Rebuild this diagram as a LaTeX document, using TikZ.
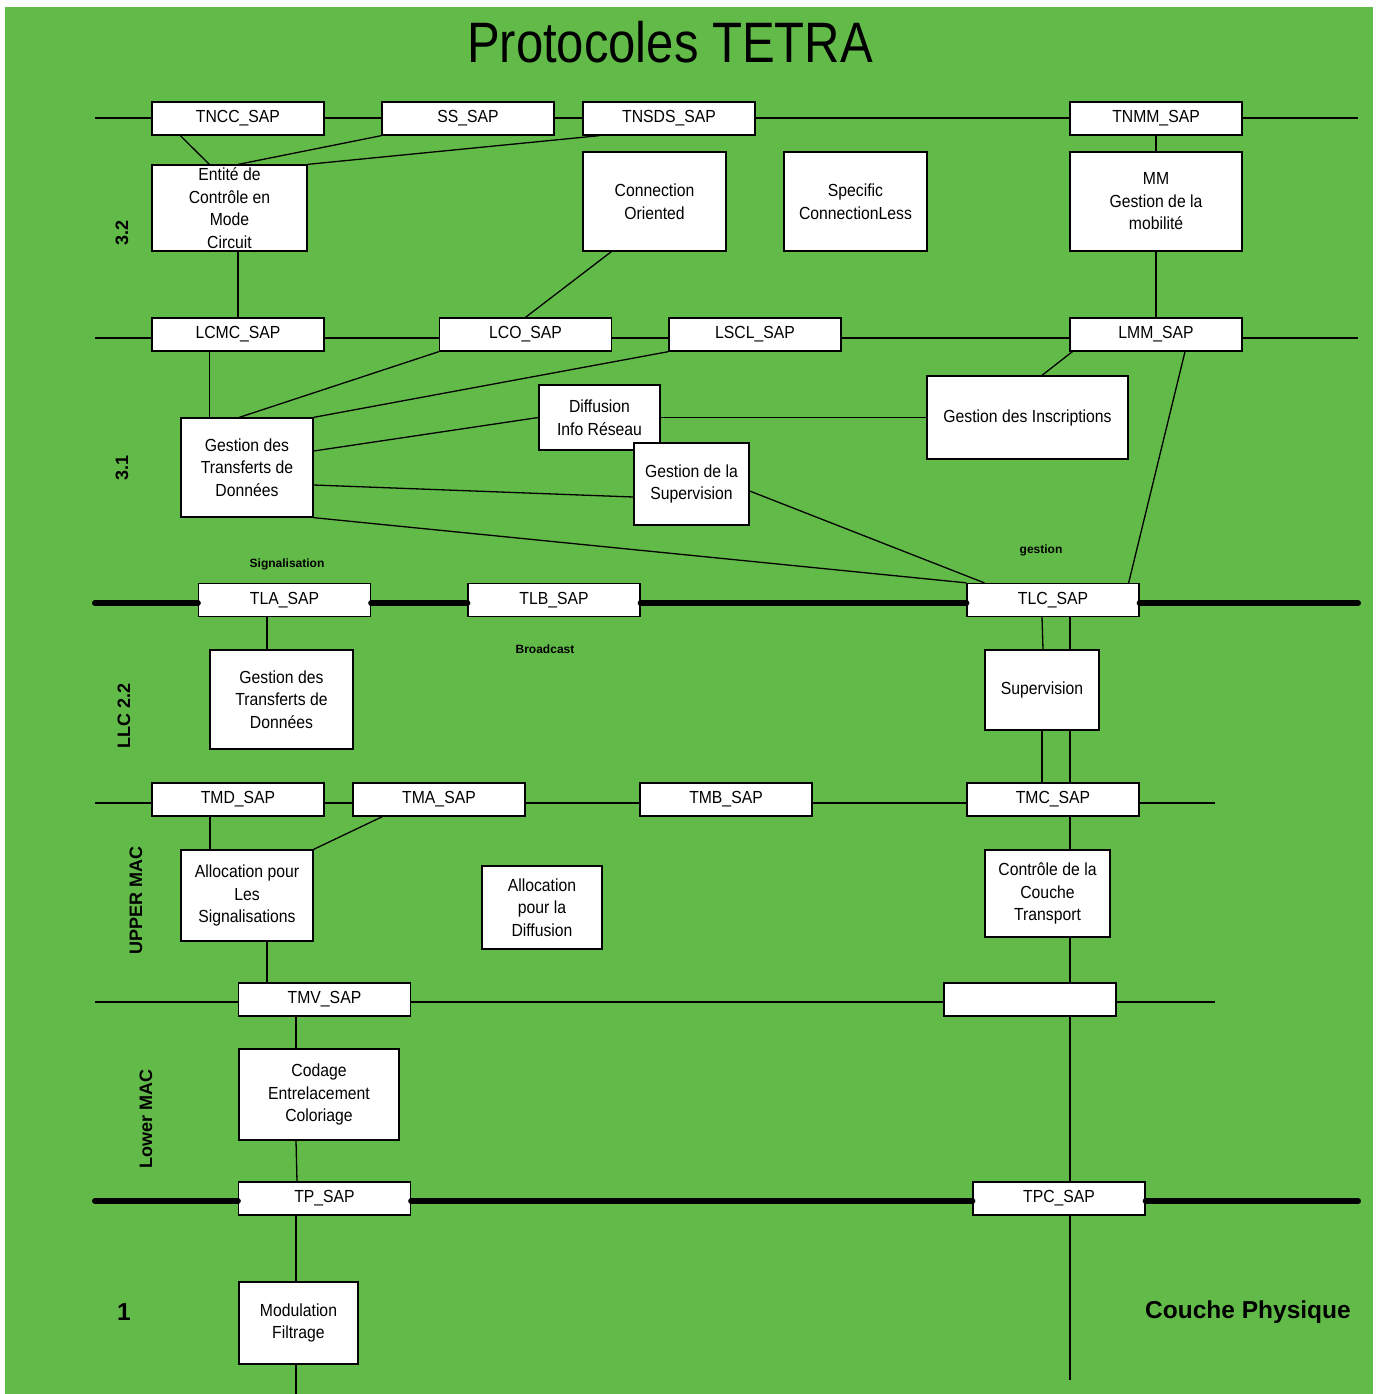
\documentclass[tikz,border=0pt]{standalone}
\usepackage{fontspec}
\setmainfont{Liberation Sans}
\newfontfamily\titlefont{Liberation Sans}[FakeStretch=0.86]
\newfontfamily\boxfont{Liberation Sans}[FakeStretch=0.9]
\definecolor{bggreen}{RGB}{98,187,72}
\begin{document}
\begin{tikzpicture}[x=1pt,y=-1pt,
  box/.style={draw, fill=white, line width=1.3pt, inner sep=0pt, align=center,
    font=\boxfont\fontsize{17.5}{22.5}\selectfont},
  sapbox/.style={box, minimum width=172pt, minimum height=33pt},
  conn/.style={line width=1.3pt},
  bus/.style={line width=1.3pt},
  thickbus/.style={line width=6pt, line cap=round},
  layer/.style={font=\bfseries\fontsize{18}{18}\selectfont, rotate=90},
  smalllab/.style={font=\bfseries\fontsize{12}{12}\selectfont},
  biglab/.style={font=\bfseries\fontsize{24.5}{25}\selectfont}]
\useasboundingbox (0,0) rectangle (1380,1394);
\fill[bggreen] (5,7) rectangle (1373,1394);

% title
\node[anchor=base, font=\titlefont\fontsize{57}{57}\selectfont] (title) at (670,63) {Protocoles TETRA};

% backbone coordinates
\coordinate (b1l) at (95,118);  \coordinate (b1r) at (1358,118);
\coordinate (b2l) at (95,338);  \coordinate (b2r) at (1358,338);
\coordinate (b3l) at (95,603);  \coordinate (b3r) at (1358,603);
\coordinate (b4l) at (95,803);  \coordinate (b4r) at (1215,803);
\coordinate (b5l) at (95,1002); \coordinate (b5r) at (1215,1002);
\coordinate (b6l) at (95,1201); \coordinate (b6r) at (1358,1201);
\coordinate (modend) at (296,1394);
\coordinate (tpcend) at (1070,1380);

\draw[bus] (b1l) -- (b1r);
\draw[bus] (b2l) -- (b2r);
\draw[bus] (b4l) -- (b4r);
\draw[bus] (b5l) -- (b5r);

% layer labels
\node[layer] (l32) at (122,233) {3.2};
\node[layer] (l31) at (122,468) {3.1};
\node[layer] (lllc) at (124,716) {LLC 2.2};
\node[layer] (lup) at (136,900) {UPPER MAC};
\node[layer] (llow) at (146,1119) {Lower MAC};
\node[biglab] (lone) at (124,1312) {1};
\node[biglab] (lphy) at (1248,1312) {Couche Physique};
\node[smalllab] (lsig) at (287,564) {Signalisation};
\node[smalllab] (lges) at (1041,550) {gestion};
\node[smalllab] (lbro) at (545,649) {Broadcast};

% row 3.2 SAPs
\node[sapbox] (tncc)  at (238,118.5)  {TNCC\_SAP};
\node[sapbox] (ss)    at (468,118.5)  {SS\_SAP};
\node[sapbox] (tnsds) at (669,118.5)  {TNSDS\_SAP};
\node[sapbox] (tnmm)  at (1156,118.5) {TNMM\_SAP};

\node[box, minimum width=155pt, minimum height=86pt] (entite) at (229.5,208) {Entité de\\Contrôle en\\Mode\\Circuit};
\node[box, minimum width=143pt, minimum height=99pt] (co) at (654.5,201.5) {Connection\\Oriented};
\node[box, minimum width=143pt, minimum height=99pt] (scl) at (855.5,201.5) {Specific\\ConnectionLess};
\node[box, minimum width=172pt, minimum height=99pt] (mm) at (1156,201.5) {MM\\Gestion de la\\mobilité};

% row 3.1 SAPs
\node[sapbox] (lcmc) at (238,334.5)   {LCMC\_SAP};
\node[sapbox] (lco)  at (525.5,334.5) {LCO\_SAP};
\node[sapbox] (lscl) at (755,334.5)   {LSCL\_SAP};
\node[sapbox] (lmm)  at (1156,334.5)  {LMM\_SAP};

\node[box, minimum width=132pt, minimum height=99pt] (gtd) at (247,467.5) {Gestion des\\Transferts de\\Données};
\node[box, minimum width=121pt, minimum height=65pt] (diff) at (599.5,417.5) {Diffusion\\Info Réseau};
\node[box, minimum width=115pt, minimum height=82pt] (sup) at (691.5,484) {Gestion de la\\Supervision};
\node[box, minimum width=201pt, minimum height=83pt] (insc) at (1027.5,417.5) {Gestion des Inscriptions};

% row TL SAPs
\node[sapbox] (tla) at (284.5,600) {TLA\_SAP};
\node[sapbox] (tlb) at (554,600)   {TLB\_SAP};
\node[sapbox] (tlc) at (1053,600)  {TLC\_SAP};

\node[box, minimum width=143pt, minimum height=99pt] (gtd2) at (281.5,699.5) {Gestion des\\Transferts de\\Données};
\node[box, minimum width=114pt, minimum height=80pt] (sup2) at (1042,690) {Supervision};

% row TM SAPs
\node[sapbox] (tmd) at (238,799.5)  {TMD\_SAP};
\node[sapbox] (tma) at (439,799.5)  {TMA\_SAP};
\node[sapbox] (tmb) at (726,799.5)  {TMB\_SAP};
\node[sapbox] (tmc) at (1053,799.5) {TMC\_SAP};

\node[box, minimum width=132pt, minimum height=91pt] (asig) at (247,895.5) {Allocation pour\\Les\\Signalisations};
\node[box, minimum width=120pt, minimum height=83pt] (adiff) at (542,907.5) {Allocation\\pour la\\Diffusion};
\node[box, minimum width=125pt, minimum height=87pt] (ctrl) at (1047.5,893.5) {Contrôle de la\\Couche\\Transport};

% row TMV
\node[sapbox] (tmv) at (324.5,999.5) {TMV\_SAP};
\node[sapbox] (blank) at (1030,999.5) {};

\node[box, minimum width=160pt, minimum height=91pt] (codage) at (319,1094.5) {Codage\\Entrelacement\\Coloriage};

% row TP
\node[sapbox] (tp)  at (324.5,1198.5) {TP\_SAP};
\node[sapbox] (tpc) at (1059,1198.5)  {TPC\_SAP};

\node[box, minimum width=119pt, minimum height=82pt] (modf) at (298.5,1323) {Modulation\\Filtrage};

% thick buses
\draw[thickbus] (b3l) -- ([yshift=-3pt]tla.west);
\draw[thickbus] ([yshift=-3pt]tla.east) -- ([yshift=-3pt]tlb.west);
\draw[thickbus] ([yshift=-3pt]tlb.east) -- ([yshift=-3pt]tlc.west);
\draw[thickbus] ([yshift=-3pt]tlc.east) -- (b3r);
\draw[thickbus] (b6l) -- ([yshift=-2.5pt]tp.west);
\draw[thickbus] ([yshift=-2.5pt]tp.east) -- ([yshift=-2.5pt]tpc.west);
\draw[thickbus] ([yshift=-2.5pt]tpc.east) -- (b6r);

% connectors layer 3.2
\draw[conn] ([xshift=29pt]tncc.south west) -- ([xshift=58pt]entite.north west);
\draw[conn] (ss.south west) -- ([xshift=87pt]entite.north west);
\draw[conn] ([xshift=17pt]tnsds.south west) -- (entite.north east);
\draw[conn] (lcmc.north) -- (lcmc.north |- entite.south);
\draw[conn] ([xshift=29pt]co.south west) -- (lco.north);
\draw[conn] (tnmm.south) -- (mm.north);
\draw[conn] (mm.south) -- (lmm.north);

% connectors layer 3.1
\draw[conn] ([xshift=29pt]gtd.north west) -- ([xshift=29pt]gtd.north west |- lcmc.south);
\draw[conn] (lco.south west) -- ([xshift=59pt]gtd.north west);
\draw[conn] (lscl.south west) -- (gtd.north east);
\draw[conn] ([yshift=16.5pt]gtd.east) -- (diff.west);
\draw[conn] (diff.east) -- (insc.west);
\draw[conn] ([yshift=-17.5pt]gtd.east) -- ([yshift=-13pt]sup.west);
\draw[conn] (gtd.south east) -- (tlc.north west);
\draw[conn] ([yshift=-7pt]sup.east) -- ([xshift=18pt]tlc.north west);
\draw[conn] ([xshift=3pt]lmm.south west) -- ([xshift=14.5pt]insc.north);
\draw[conn] ([xshift=29pt]lmm.south) -- ([xshift=-11pt]tlc.north east);

% connectors LLC 2.2
\draw[conn] ([xshift=-17.5pt]tla.south) -- ([xshift=-14.5pt]gtd2.north);
\draw[conn] ([xshift=-11pt]tlc.south) -- ([xshift=1pt]sup2.north);
\draw[conn] ([xshift=17pt]tlc.south) -- ([xshift=28pt]sup2.north);
\draw[conn] (sup2.south) -- ([xshift=-11pt]tmc.north);
\draw[conn] ([xshift=28pt]sup2.south) -- ([xshift=17pt]tmc.north);

% connectors Upper MAC
\draw[conn] ([xshift=-28pt]tmd.south) -- ([xshift=-37pt]asig.north);
\draw[conn] ([xshift=30pt]tma.south west) -- (asig.north east);
\draw[conn] ([xshift=17pt]tmc.south) -- ([xshift=22.5pt]ctrl.north);
\draw[conn] ([xshift=20pt]asig.south) -- ([xshift=-57.5pt]tmv.north);
\draw[conn] ([xshift=22.5pt]ctrl.south) -- ([xshift=40pt]blank.north);

% connectors Lower MAC and physical
\draw[conn] ([xshift=40pt]blank.south) -- ([xshift=11pt]tpc.north);
\draw[conn] ([xshift=-28.5pt]tmv.south) -- ([xshift=-23pt]codage.north);
\draw[conn] ([xshift=-23pt]codage.south) -- ([xshift=-27.5pt]tp.north);
\draw[conn] ([xshift=-28.5pt]tp.south) -- ([xshift=-2.5pt]modf.north);
\draw[conn] ([xshift=-2.5pt]modf.south) -- (modend);
\draw[conn] ([xshift=11pt]tpc.south) -- (tpcend);
\end{tikzpicture}
\end{document}
